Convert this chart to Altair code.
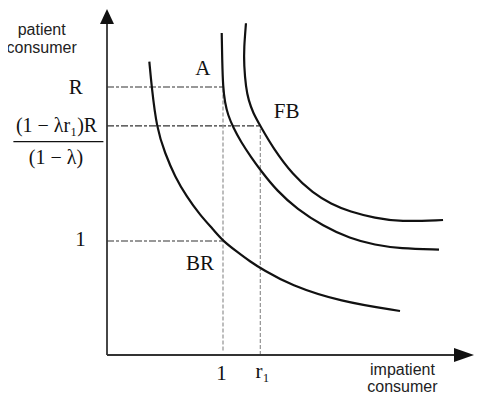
import altair as alt
import pandas as pd

# ---- data (diagram units: 1 on each axis = the "1" ticks) ----
br_x = [0.365, 0.385, 0.428, 0.500, 0.586, 0.687, 0.802, 0.916, 1.0, 1.118, 1.233, 1.347, 1.578, 2.009, 2.526]
br_y = [2.573, 2.354, 1.991, 1.769, 1.564, 1.389, 1.228, 1.101, 1.0, 0.908, 0.820, 0.746, 0.614, 0.468, 0.386]

a_x = [0.989, 0.993, 1.0, 1.017, 1.043, 1.086, 1.155, 1.241, 1.328, 1.466, 1.638, 1.862, 2.095, 2.310, 2.526, 2.862]
a_y = [2.825, 2.588, 2.351, 2.211, 2.105, 2.000, 1.868, 1.737, 1.614, 1.439, 1.281, 1.132, 1.022, 0.965, 0.934, 0.925]

fb_x = [1.198, 1.181, 1.181, 1.198, 1.220, 1.259, 1.322, 1.431, 1.603, 1.776, 1.931, 2.095, 2.310, 2.526, 2.897]
fb_y = [2.910, 2.693, 2.544, 2.342, 2.237, 2.123, 2.009, 1.816, 1.579, 1.421, 1.325, 1.257, 1.202, 1.169, 1.184]

R_level = 2.351
mid_level = 2.009
one = 1.0
r1 = 1.322

label_text = ["A", "FB", "BR"]
label_x = [0.826, 1.549, 0.802]
label_y = [2.511, 2.128, 0.801]

tick_text = ["R", "1", "1", "r\u2081"]
tick_x = [-0.270, -0.228, 0.988, 1.341]
tick_y = [2.345, 1.005, -0.164, -0.146]

frac_text = ["(1 \u2212 \u03bbr\u2081)R", "(1 \u2212 \u03bb)"]
frac_x = [-0.435, -0.440]
frac_y = [2.009, 1.724]
frac_bar = [-0.807, -0.031, 1.871]

title_text = ["patient", "consumer", "impatient", "consumer"]
title_x = [-0.563, -0.563, 2.547, 2.547]
title_y = [2.851, 2.693, -0.128, -0.281]

x_tip = 3.164
y_tip = 3.035

# ---- scales: origin at page (107,355); 116 px per x unit, 114 px per y unit ----
XMIN, XMAX = -99 / 116, 368 / 116
YMIN, YMAX = -39 / 114, 347 / 114
xs = alt.Scale(domain=[XMIN, XMAX], nice=False, zero=False)
ys = alt.Scale(domain=[YMIN, YMAX], nice=False, zero=False)


def X(f="x"):
    return alt.X(f"{f}:Q", scale=xs, axis=None)


def Y(f="y"):
    return alt.Y(f"{f}:Q", scale=ys, axis=None)


rows = []
for name, xx, yy in [("BR", br_x, br_y), ("A", a_x, a_y), ("FB", fb_x, fb_y)]:
    for i, (a, b) in enumerate(zip(xx, yy)):
        rows.append({"curve": name, "i": i, "x": a, "y": b})
curves_df = pd.DataFrame(rows)

curves = alt.Chart(curves_df).mark_line(
    color="#111111", strokeWidth=2.2, interpolate="basis"
).encode(x=X(), y=Y(), detail="curve:N", order="i:Q")

hdash_df = pd.DataFrame({
    "x": [0, 0, 0], "x2": [one, r1, one],
    "y": [R_level, mid_level, one],
})
hdash = alt.Chart(hdash_df).mark_rule(
    color="#333333", strokeWidth=1.2, strokeDash=[7, 2, 3, 2]
).encode(x=X(), x2="x2:Q", y=Y())

vdash_df = pd.DataFrame({"x": [one, r1], "y": [0.04, 0.0], "y2": [R_level, mid_level]})
vdash = alt.Chart(vdash_df).mark_rule(
    color="#9a9a9a", strokeWidth=1.3, strokeDash=[4, 2]
).encode(x=X(), y=Y(), y2="y2:Q")

axes_df = pd.DataFrame({"x": [0, 0], "x2": [x_tip - 0.05, 0], "y": [0, 0], "y2": [0, y_tip - 0.05]})
axes = alt.Chart(axes_df).mark_rule(color="#333333", strokeWidth=1.8).encode(
    x=X(), x2="x2:Q", y=Y(), y2="y2:Q"
)

xarrow = alt.Chart(pd.DataFrame({"x": [x_tip], "y": [0]})).mark_point(
    shape="M0,0 L-2,-0.7 L-2,0.7 Z", size=400, filled=True, opacity=1, color="#111111"
).encode(x=X(), y=Y())
yarrow = alt.Chart(pd.DataFrame({"x": [0], "y": [y_tip]})).mark_point(
    shape="M0,0 L-0.93,2 L0.93,2 Z", size=225, filled=True, opacity=1, color="#111111"
).encode(x=X(), y=Y())

serif = "Liberation Serif"
sans = "Liberation Sans"

labels = alt.Chart(pd.DataFrame({"t": label_text, "x": label_x, "y": label_y})).mark_text(
    font=serif, fontSize=21, color="#111111", align="center", baseline="middle"
).encode(x=X(), y=Y(), text="t:N")

ticks = alt.Chart(pd.DataFrame({"t": tick_text, "x": tick_x, "y": tick_y})).mark_text(
    font=serif, fontSize=21, color="#111111", align="center", baseline="middle"
).encode(x=X(), y=Y(), text="t:N")

frac = alt.Chart(pd.DataFrame({"t": frac_text, "x": frac_x, "y": frac_y})).mark_text(
    font=serif, fontSize=20, color="#111111", align="center", baseline="middle"
).encode(x=X(), y=Y(), text="t:N")

bar = alt.Chart(pd.DataFrame({"x": [frac_bar[0]], "x2": [frac_bar[1]], "y": [frac_bar[2]]})).mark_rule(
    color="#111111", strokeWidth=1.3
).encode(x=X(), x2="x2:Q", y=Y())

titles = alt.Chart(pd.DataFrame({"t": title_text, "x": title_x, "y": title_y})).mark_text(
    font=sans, fontSize=16, color="#222222", align="center", baseline="middle"
).encode(x=X(), y=Y(), text="t:N")

chart = alt.layer(
    hdash, vdash, curves, axes, xarrow, yarrow, labels, ticks, frac, bar, titles
).properties(
    width=467, height=386, autosize=alt.AutoSizeParams(type="none"), padding=0
).configure_view(stroke=None)

chart.save("out.html", embed_options={"renderer": "svg", "actions": False})
